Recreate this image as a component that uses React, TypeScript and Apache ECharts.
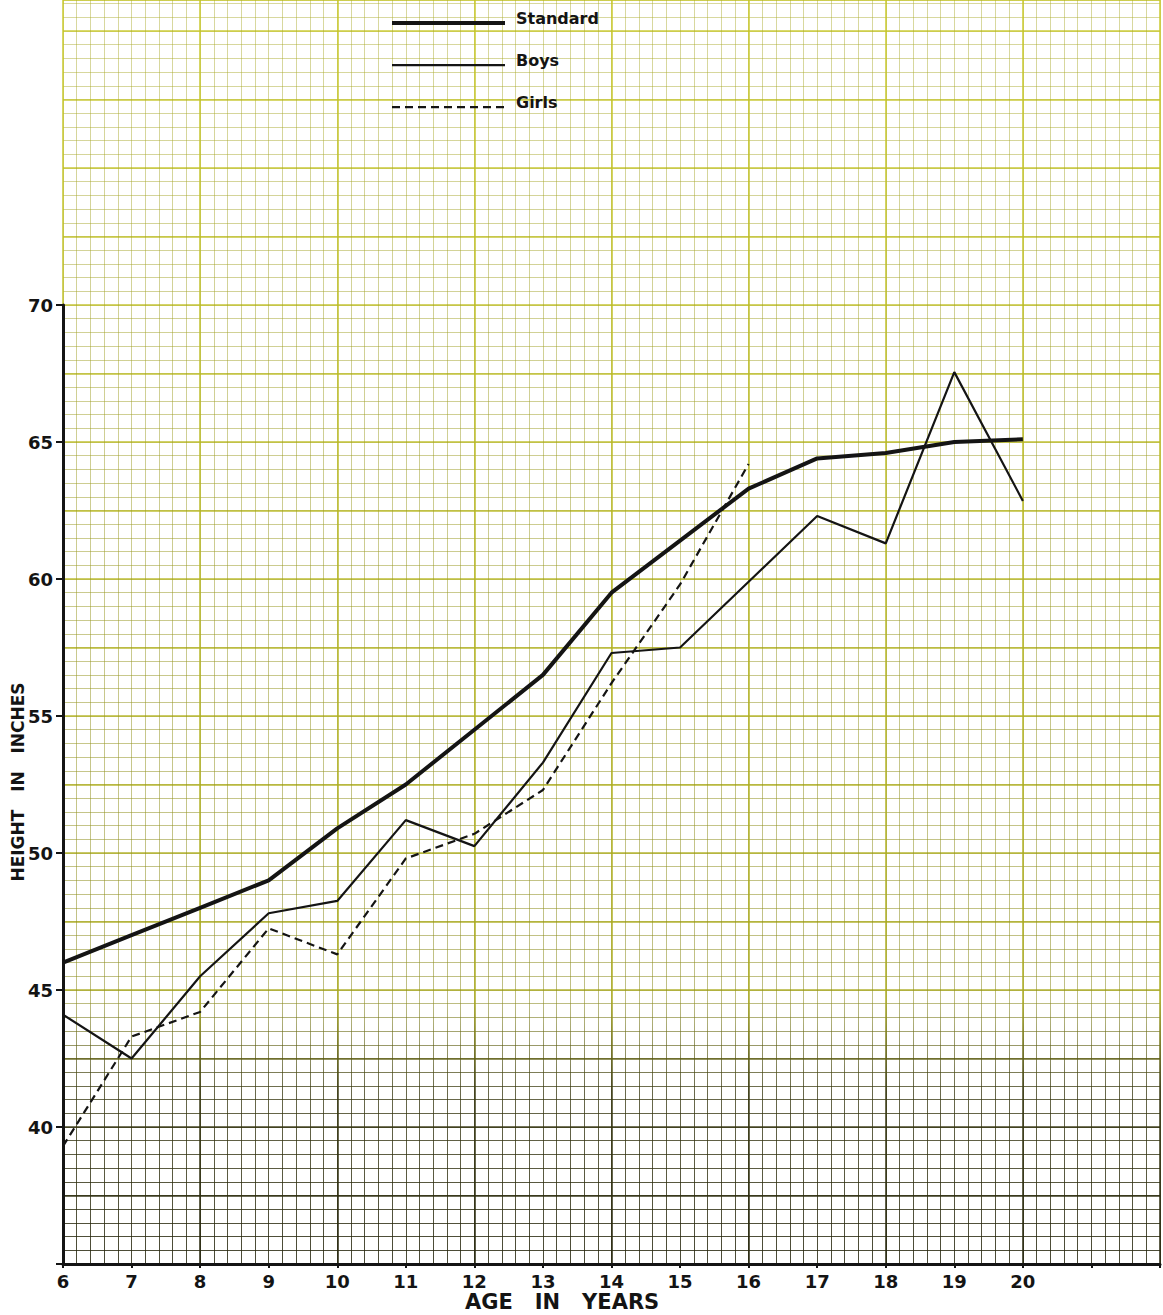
import React, { useEffect, useRef } from "react";
import * as echarts from "echarts";

// ---- data ----
const ages = [6, 7, 8, 9, 10, 11, 12, 13, 14, 15, 16, 17, 18, 19, 20];
const standardHeights = [46.0, 47.0, 48.0, 49.0, 50.9, 52.5, 54.5, 56.5, 59.5, 61.4, 63.3, 64.4, 64.6, 65.0, 65.1];
const boysHeights = [44.1, 42.5, 45.5, 47.8, 48.25, 51.2, 50.25, 53.3, 57.3, 57.5, 59.9, 62.3, 61.3, 67.55, 62.85];
const girlsAges = [6, 7, 8, 9, 10, 11, 12, 13, 14, 15, 16];
const girlsHeights = [39.3, 43.3, 44.2, 47.25, 46.3, 49.8, 50.7, 52.3, 56.2, 59.8, 64.2];
const yTickValues = [40, 45, 50, 55, 60, 65, 70];
const xTickValues = [6, 7, 8, 9, 10, 11, 12, 13, 14, 15, 16, 17, 18, 19, 20];
const seriesNames = ["Standard", "Boys", "Girls"];
const xAxisTitle = "AGE   IN   YEARS";
const yAxisTitle = "HEIGHT   IN   INCHES";

// ---- layout ----
const W = 1163;
const H = 1315;
const LEFT = 63;
const RIGHT = 3;
const BOTTOM = 51;
const PX_PER_INCH = 27.4;
const X_MIN = 6;
const X_MAX = 22;
const Y_MIN = 35;
const Y_LABEL_MAX = 70;
const PLOT_BOTTOM_Y = H - BOTTOM;
const LABEL_TOP = PLOT_BOTTOM_Y - (Y_LABEL_MAX - Y_MIN) * PX_PER_INCH;
const PAPER_MAX = Y_MIN + PLOT_BOTTOM_Y / PX_PER_INCH;

const FONT = "DejaVu Sans";
const INK = "#141414";

function paperAxisPair(gridIndex: number, xInterval: number, yInterval: number, lineStyle: any) {
  const common = {
    gridIndex,
    type: "value" as const,
    axisLine: { show: false },
    axisTick: { show: false },
    axisLabel: { show: false },
    splitLine: { show: true, lineStyle },
  };
  return {
    x: { ...common, min: X_MIN, max: X_MAX, interval: xInterval },
    y: { ...common, min: Y_MIN, max: PAPER_MAX, interval: yInterval },
  };
}

export default function App() {
  const ref = useRef<HTMLDivElement>(null);

  useEffect(() => {
    if (!ref.current) return;
    const chart = echarts.init(ref.current, undefined, { renderer: "svg" });

    const minorColor = new echarts.graphic.LinearGradient(
      0, 0, 0, H,
      [
        { offset: 0, color: "rgba(170,170,40,0.45)" },
        { offset: 0.76, color: "rgba(140,140,30,0.55)" },
        { offset: 0.83, color: "rgba(55,55,15,0.75)" },
        { offset: 1, color: "rgba(30,30,10,0.85)" },
      ],
      true
    );
    const majorColor = new echarts.graphic.LinearGradient(
      0, 0, 0, H,
      [
        { offset: 0, color: "rgba(200,200,40,0.9)" },
        { offset: 0.76, color: "rgba(170,170,30,0.9)" },
        { offset: 0.83, color: "rgba(55,55,15,0.9)" },
        { offset: 1, color: "rgba(30,30,10,0.95)" },
      ],
      true
    );

    const minor = paperAxisPair(0, 0.2, 0.5, { color: minorColor, width: 1 });
    const major = paperAxisPair(1, 2, 2.5, { color: majorColor, width: 1.6 });

    const gridBox = { left: LEFT, right: RIGHT, bottom: BOTTOM };

    const option: any = {
      animation: false,
      backgroundColor: "#ffffff",
      grid: [
        { ...gridBox, top: 0 },
        { ...gridBox, top: 0 },
        { ...gridBox, top: LABEL_TOP },
      ],
      legend: {
        show: true,
        orient: "vertical",
        left: 390,
        top: 10,
        padding: 0,
        itemWidth: 113,
        itemHeight: 14,
        itemGap: 23.5,
        selectedMode: false,
        itemStyle: { color: "rgba(0,0,0,0)", borderWidth: 0, opacity: 0 },
        data: [
          { name: seriesNames[0], lineStyle: { width: 4 } },
          { name: seriesNames[1], lineStyle: { width: 2.2 } },
          { name: seriesNames[2], lineStyle: { width: 2.2 } },
        ],
        formatter: "{t|{name}}",
        textStyle: {
          fontFamily: FONT,
          fontWeight: "bold",
          fontSize: 16,
          color: INK,
          rich: {
            t: {
              fontFamily: FONT,
              fontWeight: "bold",
              fontSize: 16,
              color: INK,
              padding: [0, 0, 10, 6],
            },
          },
        },
      },
      xAxis: [
        minor.x,
        major.x,
        {
          gridIndex: 2,
          type: "value",
          min: X_MIN,
          max: X_MAX,
          interval: 1,
          axisLine: { show: true, onZero: false, lineStyle: { color: INK, width: 3 } },
          axisTick: { show: true, length: 4, lineStyle: { color: INK, width: 2 } },
          splitLine: { show: false },
          axisLabel: {
            show: true,
            margin: 8,
            color: INK,
            fontFamily: FONT,
            fontWeight: "bold",
            fontSize: 18,
            formatter: (v: number) => (xTickValues.indexOf(v) >= 0 ? String(v) : ""),
          },
        },
      ],
      yAxis: [
        minor.y,
        major.y,
        {
          gridIndex: 2,
          type: "value",
          min: Y_MIN,
          max: Y_LABEL_MAX,
          interval: 5,
          axisLine: { show: true, onZero: false, lineStyle: { color: INK, width: 3 } },
          axisTick: { show: true, length: 7, lineStyle: { color: INK, width: 2 } },
          splitLine: { show: false },
          axisLabel: {
            show: true,
            margin: 10,
            color: INK,
            fontFamily: FONT,
            fontWeight: "bold",
            fontSize: 18,
            formatter: (v: number) => (yTickValues.indexOf(v) >= 0 ? String(v) : ""),
          },
        },
      ],
      series: [
        {
          name: seriesNames[0],
          type: "line",
          xAxisIndex: 2,
          yAxisIndex: 2,
          symbol: "none",
          data: ages.map((a, i) => [a, standardHeights[i]]),
          lineStyle: { color: INK, width: 4 },
          itemStyle: { color: INK },
          z: 5,
        },
        {
          name: seriesNames[1],
          type: "line",
          xAxisIndex: 2,
          yAxisIndex: 2,
          symbol: "none",
          data: ages.map((a, i) => [a, boysHeights[i]]),
          lineStyle: { color: INK, width: 2.2 },
          itemStyle: { color: INK },
          z: 5,
        },
        {
          name: seriesNames[2],
          type: "line",
          xAxisIndex: 2,
          yAxisIndex: 2,
          symbol: "none",
          data: girlsAges.map((a, i) => [a, girlsHeights[i]]),
          lineStyle: { color: INK, width: 2.2, type: [8, 5] },
          itemStyle: { color: INK },
          z: 5,
        },
      ],
      graphic: [
        {
          type: "text",
          left: 465,
          top: 1291,
          style: {
            text: xAxisTitle,
            font: `bold 21px "${FONT}"`,
            fill: INK,
          },
        },
        {
          type: "text",
          x: 18,
          y: 782,
          rotation: Math.PI / 2,
          style: {
            text: yAxisTitle,
            font: `bold 17px "${FONT}"`,
            fill: INK,
            align: "center",
            verticalAlign: "middle",
          },
        },
      ],
    };

    chart.setOption(option);
    return () => chart.dispose();
  }, []);

  return (
    <div
      ref={ref}
      style={{ position: "absolute", left: 0, top: 0, width: W, height: H, background: "#fff" }}
    />
  );
}
